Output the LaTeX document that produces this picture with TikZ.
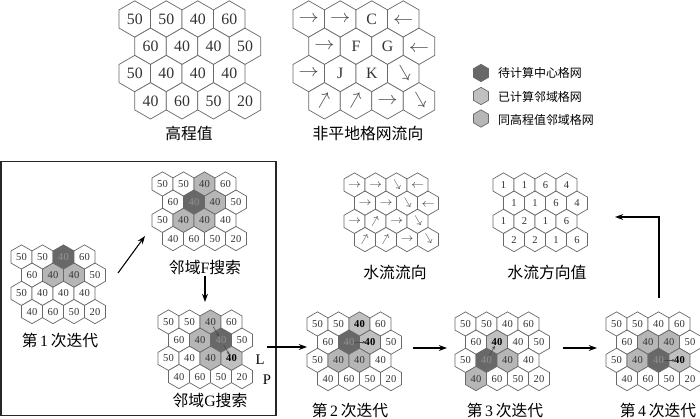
\documentclass[tikz,border=0pt]{standalone}
\usepackage{fontspec}
\setmainfont{Liberation Serif}
\newfontfamily\cjk{Noto Sans CJK SC}
\usepackage{graphicx}
\usepackage{tikz}
\usetikzlibrary{arrows.meta, shapes.geometric, calc}
\usepackage{xcolor}
\definecolor{hexline}{RGB}{105,105,105}
\definecolor{hexdark}{RGB}{104,104,104}
\definecolor{hexdone}{RGB}{192,192,192}
\definecolor{hexsame}{RGB}{182,182,182}
\newcommand{\dirArrow}{\scalebox{1.2}[1.05]{$\rightarrow$}}
\newcommand{\dirE}{\textcolor{black!72}{\dirArrow}}
\newcommand{\dirW}{\textcolor{black!72}{\rotatebox[origin=c]{180}{\dirArrow}}}
\newcommand{\dirSE}{\textcolor{black!72}{\rotatebox[origin=c]{-60}{\dirArrow}}}
\newcommand{\dirNE}{\textcolor{black!72}{\rotatebox[origin=c]{60}{\dirArrow}}}
\newcommand{\cellfont}{}
% one row of hexagons: grid, row, cell width (px), value/style list
\newcommand{\hexrow}[4]{%
  \foreach \v/\s [count=\c] in {#4} {
    \pgfmathsetmacro{\dx}{(\c-1)*#3+mod(#2+1,2)*#3/2}
    \pgfmathsetmacro{\dy}{(#2-1)*#3*0.866}
    \node[hexcell=#3, \s] (#1-#2-\c) at ([shift={(\dx,\dy)}]#1) {\v};
  }
}
% four rows: grid, cell width (px), rows
\newcommand{\hexgrid}[6]{%
  \ifdim#2pt>25pt \def\cellfont{\fontsize{13.5}{15}\selectfont}%
  \else \def\cellfont{\fontsize{9}{10}\selectfont}\fi
  \hexrow{#1}{1}{#2}{#3}
  \hexrow{#1}{2}{#2}{#4}
  \hexrow{#1}{3}{#2}{#5}
  \hexrow{#1}{4}{#2}{#6}
}

\begin{document}
\begin{tikzpicture}[x=0.03cm, y=-0.03cm,
  hexcell/.style={regular polygon, regular polygon sides=6, shape border rotate=30,
                  draw=hexline, line width=0.6pt, inner sep=0pt,
                  minimum size=#1*0.03464cm, text=black!80, font=\cellfont},
  cw/.style={fill=white},
  cc/.style={fill=hexdark, text=black!42},
  cd/.style={fill=hexdone, text=black, font=\cellfont\bfseries},
  cs/.style={fill=hexsame},
  caption/.style={font=\cjk\fontsize{13.5}{16}\selectfont, inner sep=1pt},
  legendtxt/.style={font=\cjk\fontsize{10.2}{12}\selectfont, anchor=west, inner sep=0pt},
  flow/.style={line width=0.9pt, -{Stealth[length=7pt, width=5pt]}},
  pass/.style={draw=black!70, line width=0.5pt, -{Stealth[length=3pt, width=2.5pt]},
               shorten <=4.5pt, shorten >=3.5pt}
]
\useasboundingbox (0,0) rectangle (700,418);

%--- Grid origins (centre of first cell) ---
\coordinate (elev)  at (134.75,19);
\coordinate (dirs)  at (308.75,19);
\coordinate (flow)  at (354.5,185);
\coordinate (code)  at (503.5,185);
\coordinate (srchF) at (162.5,184);
\coordinate (it1)   at (21.5,257);
\coordinate (srchG) at (168.5,322);
\coordinate (it2)   at (317.5,324);
\coordinate (it3)   at (465.5,324);
\coordinate (it4)   at (616.5,324);

%--- Top: elevation and non-flat directions ---
\hexgrid{elev}{31.5}{50/cw,50/cw,40/cw,60/cw}{60/cw,40/cw,40/cw,50/cw}
  {50/cw,40/cw,40/cw,40/cw}{40/cw,60/cw,50/cw,20/cw}
\hexgrid{dirs}{31.5}{{\dirE}/cw,{\dirE}/cw,C/cw,{\dirW}/cw}{{\dirE}/cw,F/cw,G/cw,{\dirW}/cw}
  {{\dirE}/cw,J/cw,K/cw,{\dirSE}/cw}{{\dirNE}/cw,{\dirNE}/cw,{\dirE}/cw,{\dirSE}/cw}
\node[caption] (lbElev) at (189,133) {高程值};
\node[caption] (lbDirs) at (368,133) {非平地格网流向};

%--- Legend ---
\node[hexcell=15, cc] (lgC) at (481,73) {};
\node[hexcell=15, fill=hexdone] (lgD) at (481,96) {};
\node[hexcell=15, cs] (lgS) at (481,118.5) {};
\node[legendtxt] (ltC) at (498,73)    {待计算中心格网};
\node[legendtxt] (ltD) at (498,96.5)  {已计算邻域格网};
\node[legendtxt] (ltS) at (498,119.5) {同高程值邻域格网};

%--- Results ---
\hexgrid{flow}{21}{{\dirE}/cw,{\dirE}/cw,{\dirSE}/cw,{\dirW}/cw}{{\dirE}/cw,{\dirE}/cw,{\dirSE}/cw,{\dirW}/cw}
  {{\dirE}/cw,{\dirNE}/cw,{\dirE}/cw,{\dirSE}/cw}{{\dirNE}/cw,{\dirNE}/cw,{\dirE}/cw,{\dirSE}/cw}
\hexgrid{code}{21}{1/cw,1/cw,6/cw,4/cw}{1/cw,1/cw,6/cw,4/cw}{1/cw,2/cw,1/cw,6/cw}{2/cw,2/cw,1/cw,6/cw}
\node[caption] (lbFlow) at (395,272) {水流流向};
\node[caption] (lbCode) at (547,272) {水流方向值};

%--- First iteration (framed) ---
\draw[line width=0.9pt, draw=black!85] (1,161.5) rectangle (276,415.5);
\hexgrid{it1}{21}{50/cw,50/cw,40/cc,60/cw}{60/cw,40/cs,40/cs,50/cw}
  {50/cw,40/cw,40/cw,40/cw}{40/cw,60/cw,50/cw,20/cw}
\hexgrid{srchF}{21}{50/cw,50/cw,40/cs,60/cw}{60/cw,40/cc,40/cs,50/cw}
  {50/cw,40/cs,40/cs,40/cw}{40/cw,60/cw,50/cw,20/cw}
\hexgrid{srchG}{21}{50/cw,50/cw,40/cs,60/cw}{60/cw,40/cs,40/cc,50/cw}
  {50/cw,40/cw,40/cs,40/cd}{40/cw,60/cw,50/cw,20/cw}
\node[caption] (lbIt1)   at (60,340)  {第\,{\rmfamily 1}\,次迭代};
\node[caption] (lbSrchF) at (205,267) {邻域{\rmfamily F}搜索};
\node[caption] (lbSrchG) at (210,400) {邻域{\rmfamily G}搜索};
\node[font=\fontsize{12.5}{14}\selectfont, inner sep=0pt] (tL) at (260,360) {L};
\node[font=\fontsize{12.5}{14}\selectfont, inner sep=0pt] (tP) at (267,380) {P};

%--- Later iterations ---
\hexgrid{it2}{21}{50/cw,50/cw,40/cd,60/cw}{60/cw,40/cc,40/cd,50/cw}
  {50/cw,40/cs,40/cs,40/cw}{40/cw,60/cw,50/cw,20/cw}
\hexgrid{it3}{21}{50/cw,50/cw,40/cw,60/cw}{60/cw,40/cd,40/cw,50/cw}
  {50/cw,40/cc,40/cs,40/cw}{40/cs,60/cw,50/cw,20/cw}
\hexgrid{it4}{21}{50/cw,50/cw,40/cw,60/cw}{60/cw,40/cs,40/cs,50/cw}
  {50/cw,40/cs,40/cc,40/cd}{40/cw,60/cw,50/cw,20/cw}
\node[caption] (lbIt2) at (350,410) {第\,{\rmfamily 2}\,次迭代};
\node[caption] (lbIt3) at (505,410) {第\,{\rmfamily 3}\,次迭代};
\node[caption] (lbIt4) at (658,410) {第\,{\rmfamily 4}\,次迭代};

%--- Flow inside grids ---
\draw[pass] (srchG-1-3.center) -- (srchG-2-3.center);
\draw[pass] (srchG-2-3.center) -- (srchG-3-4.center);
\draw[pass] (it2-2-2.center) -- (it2-2-3.center);
\draw[pass] (it3-3-2.center) -- (it3-2-2.center);
\draw[pass] (it4-3-3.center) -- (it4-3-4.center);

%--- Steps ---
\coordinate (a1s) at (118,273);
\coordinate (a1e) at (145,236);
\coordinate (a2e) at (205,302);
\coordinate (a3s) at (267,347);
\coordinate (a3e) at (307,347);
\coordinate (a4s) at (413,348);
\coordinate (a4e) at (447,348);
\coordinate (a5s) at (563,348);
\coordinate (a5e) at (597,348);
\coordinate (a6s) at (659,298);
\coordinate (a6e) at (615,217);
\draw[flow] (a1s) -- (a1e);
\draw[flow] (lbSrchF.south) -- (a2e);
\draw[flow] (a3s) -- (a3e);
\draw[flow] (a4s) -- (a4e);
\draw[flow] (a5s) -- (a5e);
\draw[flow] (a6s) |- (a6e);

\end{tikzpicture}
\end{document}
